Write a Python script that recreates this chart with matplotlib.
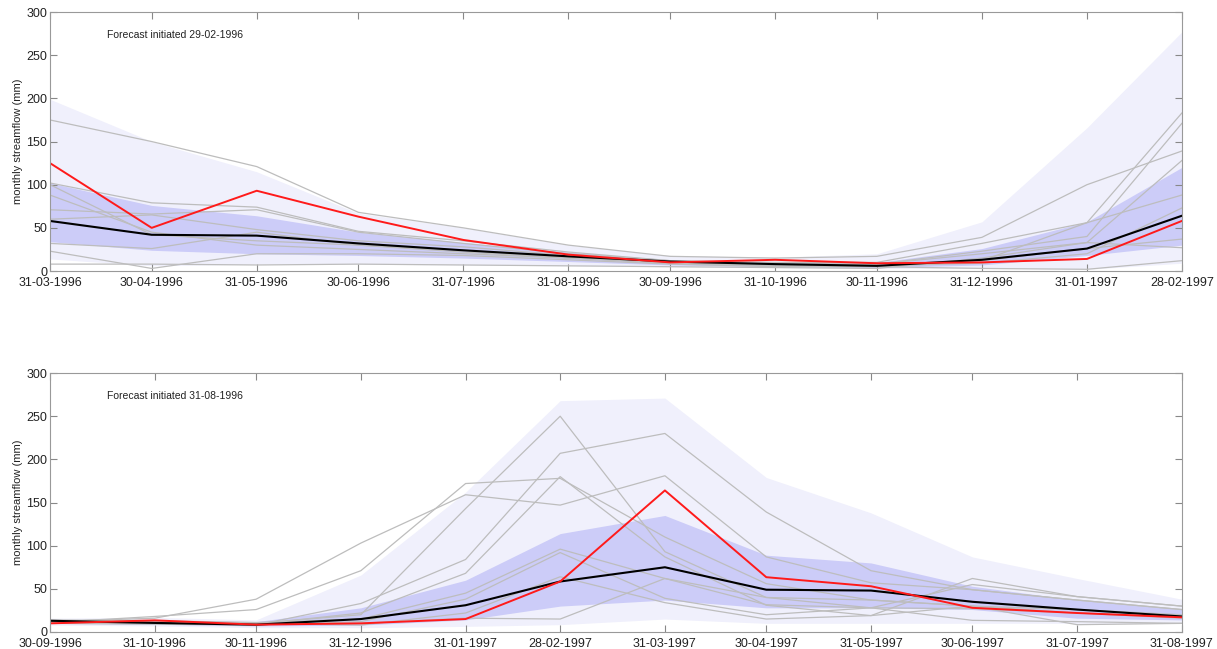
import matplotlib.pyplot as plt
import matplotlib.dates as mdates
import numpy as np
import pandas as pd

plt.rcParams['font.family'] = ['Liberation Sans', 'DejaVu Sans']

# ---- panel 1: forecast initiated 29-02-1996 ----
dates_a = pd.to_datetime(['1996-03-31', '1996-04-30', '1996-05-31', '1996-06-30', '1996-07-31', '1996-08-31',
                          '1996-09-30', '1996-10-31', '1996-11-30', '1996-12-31', '1997-01-31', '1997-02-28'])
obs_a = [125, 50, 93, 63, 36, 19, 10, 13, 9, 10, 14, 58]
median_a = [58, 42, 41, 32, 24, 17, 11, 8, 6, 13, 26, 64]
outer_hi_a = [199, 150, 115, 67, 50, 30, 18, 16, 20, 57, 166, 277]
outer_lo_a = [14, 6, 8, 8, 7, 6, 5, 4, 3, 3, 2, 9]
inner_hi_a = [102, 76, 64, 45, 33, 22, 13, 10, 10, 26, 57, 120]
inner_lo_a = [34, 24, 20, 18, 15, 11, 7, 5, 4, 7, 18, 30]
members_a = [
    [175, 150, 121, 68, 50, 30, 17, 15, 17, 39, 100, 139],
    [102, 79, 74, 46, 35, 22, 12, 10, 10, 32, 56, 183],
    [88, 45, 30, 25, 20, 15, 10, 8, 8, 23, 40, 171],
    [71, 66, 71, 45, 32, 20, 12, 8, 8, 20, 33, 128],
    [60, 65, 48, 35, 28, 18, 10, 7, 6, 12, 56, 88],
    [32, 26, 45, 30, 24, 16, 9, 6, 6, 9, 20, 73],
    [23, 3, 20, 20, 18, 13, 8, 5, 5, 3, 2, 12],
    [8, 8, 7, 8, 7, 6, 5, 4, 3, 15, 33, 27],
    [100, 42, 35, 30, 22, 15, 9, 7, 6, 12, 26, 37],
]

# ---- panel 2: forecast initiated 31-08-1996 ----
dates_b = pd.to_datetime(['1996-09-30', '1996-10-31', '1996-11-30', '1996-12-31', '1997-01-31', '1997-02-28',
                          '1997-03-31', '1997-04-30', '1997-05-31', '1997-06-30', '1997-07-31', '1997-08-31'])
obs_b = [10, 13.5, 8.5, 10, 15, 58.5, 164, 63.5, 53, 28, 22, 17]
median_b = [13, 10.5, 8.5, 15, 31, 58.5, 75, 49, 48, 35, 26, 18]
outer_hi_b = [16, 17, 14, 66, 162, 268, 271, 179, 138, 87, 62, 38]
outer_lo_b = [8, 7, 5, 5, 6.5, 8.5, 15, 10, 10, 10, 10, 10]
inner_hi_b = [14, 14, 12, 28, 60, 114, 135, 89, 80, 53, 37, 26]
inner_lo_b = [10, 9, 7, 8, 14, 30, 37, 28, 28, 26, 16, 14]
members_b = [
    [12, 16, 38, 103, 159, 147, 181, 87, 57, 49, 37, 26],
    [11, 18, 26, 71, 172, 178, 110, 56, 37, 30, 26, 20],
    [13, 12, 10, 20, 143, 250, 93, 40, 28, 55, 41, 30],
    [10, 11, 8, 33, 84, 207, 230, 139, 71, 49, 37, 26],
    [12, 10, 9, 22, 68, 180, 87, 31, 19, 62, 41, 30],
    [14, 13, 11, 15, 45, 96, 62, 40, 37, 30, 22, 18],
    [10, 9, 8, 12, 38, 92, 39, 20, 28, 13.5, 12, 10],
    [12, 11, 10, 8, 22, 64, 34, 15, 19, 30, 8.5, 10],
    [11, 10, 9, 10, 16, 15, 62, 31.6, 28, 27, 22, 16],
]

panels = [
    (dates_a, obs_a, median_a, outer_lo_a, outer_hi_a, inner_lo_a, inner_hi_a, members_a, 'Forecast initiated 29-02-1996'),
    (dates_b, obs_b, median_b, outer_lo_b, outer_hi_b, inner_lo_b, inner_hi_b, members_b, 'Forecast initiated 31-08-1996'),
]

fig = plt.figure(figsize=(12.17, 6.49), dpi=100)
positions = [[0.0411, 0.5824, 0.930, 0.399], [0.0411, 0.0262, 0.930, 0.399]]

for pos, (d, obs, med, olo, ohi, ilo, ihi, members, label) in zip(positions, panels):
    ax = fig.add_axes(pos)
    ax.fill_between(d, olo, ohi, color='#f0f0fc', linewidth=0)
    ax.fill_between(d, ilo, ihi, color='#ccccf8', linewidth=0)
    for m in members:
        ax.plot(d, m, color='#bdbdbd', linewidth=0.9)
    ax.plot(d, med, color='black', linewidth=1.5)
    ax.plot(d, obs, color='#ff1a1a', linewidth=1.4)
    ax.set_xlim(d[0], d[-1])
    ax.set_ylim(0, 300)
    ax.set_xticks(d)
    ax.xaxis.set_major_formatter(mdates.DateFormatter('%d-%m-%Y'))
    ax.set_yticks(np.arange(0, 301, 50))
    ax.tick_params(direction='in', top=True, right=True, length=5, width=0.8,
                   color='#888888', labelcolor='#222222', labelsize=9)
    ax.tick_params(axis='x', pad=4)
    ax.tick_params(axis='y', pad=2)
    for s in ax.spines.values():
        s.set_color('#999999')
        s.set_linewidth(0.8)
    ax.set_ylabel('monthly streamflow (mm)', fontsize=8, color='#222222', labelpad=2)
    ax.text(0.05, 0.9, label, transform=ax.transAxes, fontsize=7.5, color='#222222')

plt.savefig('out.png', dpi=100)
